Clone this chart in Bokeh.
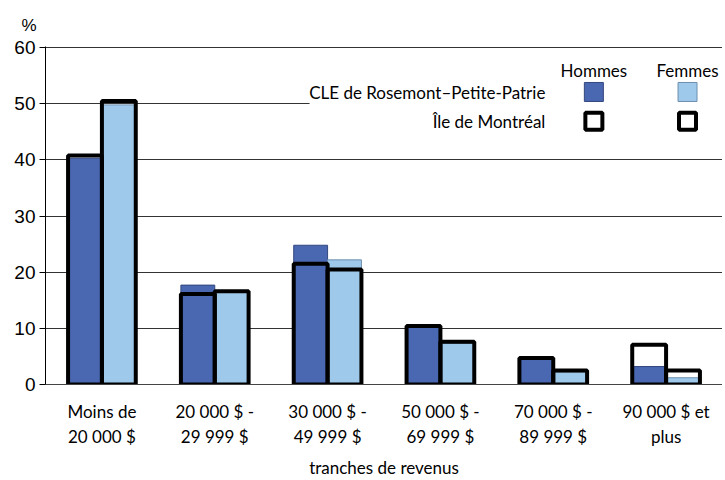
from bokeh.plotting import figure
from bokeh.models import Range1d, FixedTicker, ColumnDataSource
from bokeh.core.properties import value
from bokeh.embed import file_html
from bokeh.resources import INLINE
import numpy as np

categories = ["Moins de\n20 000 $", "20 000 $ -\n29 999 $", "30 000 $ -\n49 999 $",
              "50 000 $ -\n69 999 $", "70 000 $ -\n89 999 $", "90 000 $ et\nplus"]
cle_hommes = [40.3, 17.7, 24.8, 10.2, 4.5, 3.2]
cle_femmes = [49.8, 16.4, 22.2, 7.3, 2.2, 1.2]
ile_hommes = [40.8, 16.1, 21.5, 10.4, 4.7, 7.1]
ile_femmes = [50.5, 16.6, 20.5, 7.6, 2.5, 2.5]
y_ticks = [0, 10, 20, 30, 40, 50, 60]

C_H = "#4A67B1"
C_F = "#9FC9EB"
XFONT = "Lato"

p = figure(width=722, height=480, output_backend="svg", toolbar_location=None,
           x_range=Range1d(0, 6), y_range=Range1d(0, 60.2),
           min_border_left=45, min_border_right=0, min_border_top=46, min_border_bottom=91)
p.outline_line_color = None
p.background_fill_color = "white"

p.title.text = "%"
p.title.align = "left"
p.title.offset = -24
p.title.text_font = "Liberation Sans"
p.title.text_font_size = "17px"
p.title.text_font_style = "normal"
p.title.text_color = "black"
p.title.standoff = 24

centers = np.arange(len(categories)) + 0.5
bw = 0.3
src = ColumnDataSource(dict(xh=centers - bw / 2, xf=centers + bw / 2,
                            ch=cle_hommes, cf=cle_femmes, ih=ile_hommes, if_=ile_femmes))

# white legend panel covering grid
p.quad(left=[2.34], right=[6], bottom=[43.6], top=[59.7], fill_color="white", line_color=None)

p.vbar(x="xh", top="ch", width=bw, bottom=0, source=src, fill_color=C_H, line_color="#33477f", line_width=1)
p.vbar(x="xf", top="cf", width=bw, bottom=0, source=src, fill_color=C_F, line_color="#6d8fae", line_width=1)
p.vbar(x="xh", top="ih", width=bw, bottom=0, source=src, fill_color=None, line_color="black", line_width=4)
p.vbar(x="xf", top="if_", width=bw, bottom=0, source=src, fill_color=None, line_color="black", line_width=4)

# axes
p.yaxis.ticker = FixedTicker(ticks=y_ticks)
p.yaxis.major_label_text_font = "Liberation Sans"
p.yaxis.major_label_text_font_size = "19px"
p.yaxis.major_label_text_color = "black"
p.yaxis.major_tick_in = 0
p.yaxis.major_tick_out = 6
p.yaxis.minor_tick_line_color = None
p.yaxis.axis_line_color = "black"
p.yaxis.major_tick_line_color = "black"
p.yaxis.major_label_standoff = 4

p.xaxis.ticker = FixedTicker(ticks=list(centers))
p.xaxis.major_label_overrides = {float(c): lab for c, lab in zip(centers, categories)}
p.xaxis.major_label_text_font = XFONT
p.xaxis.major_label_text_font_size = "17px"
p.xaxis.major_label_text_color = "black"
p.xaxis.major_tick_line_color = None
p.xaxis.minor_tick_line_color = None
p.xaxis.axis_line_color = "#444444"
p.xaxis.major_label_standoff = 10
p.xaxis.axis_label = "tranches de revenus"
p.xaxis.axis_label_text_font = XFONT
p.xaxis.axis_label_text_font_size = "17px"
p.xaxis.axis_label_text_font_style = "normal"
p.xaxis.axis_label_text_color = "black"
p.xaxis.axis_label_standoff = 7

p.xgrid.grid_line_color = None
p.ygrid.ticker = FixedTicker(ticks=y_ticks)
p.ygrid.grid_line_color = "#333333"
p.ygrid.grid_line_width = 1

# legend
lx_h, lx_f = 4.86, 5.69
p.text(x=[lx_h, lx_f], y=[55.9, 55.9], text=["Hommes", "Femmes"], text_align="center",
       text_baseline="middle", text_font_size="17px", text_font=value(XFONT))
p.text(x=[4.43, 4.43], y=[52.0, 46.8], text=["CLE de Rosemont\u2013Petite-Patrie", "\u00cele de Montr\u00e9al"],
       text_align="right", text_baseline="middle", text_font_size="17px", text_font=value(XFONT))
p.scatter(x=[lx_h], y=[52.1], marker="square", size=19, fill_color=C_H, line_color="#33477f")
p.scatter(x=[lx_f], y=[52.1], marker="square", size=19, fill_color=C_F, line_color="#6d8fae")
p.scatter(x=[lx_h, lx_f], y=[46.9, 46.9], marker="square", size=17, fill_color="white",
          line_color="black", line_width=4)

open("out.html", "w").write(file_html(p, INLINE))
